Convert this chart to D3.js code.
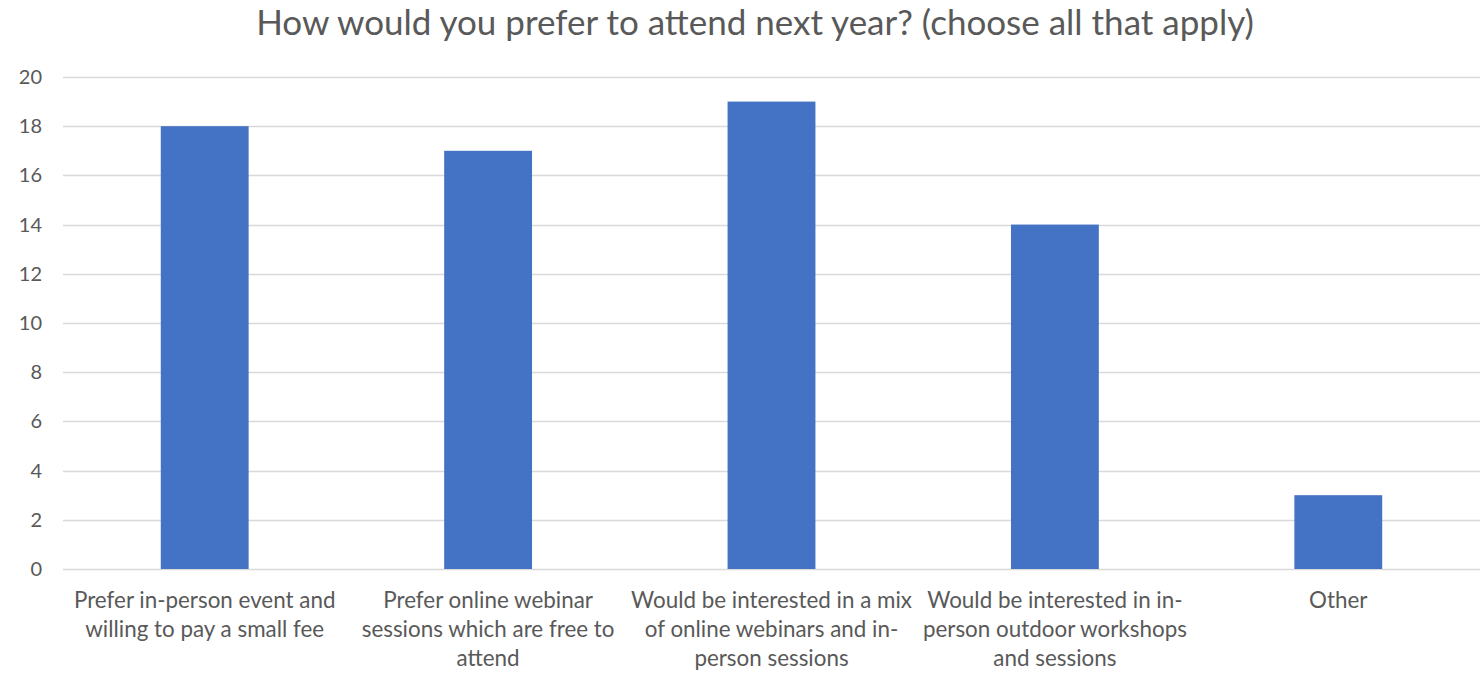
<!DOCTYPE html>
<html>
<head>
<meta charset="utf-8">
<script src="https://cdn.jsdelivr.net/npm/d3@7"></script>
<style>
  html, body { margin: 0; padding: 0; background: #fff; }
  svg { display: block; }
  text { font-family: Lato, "Open Sans", sans-serif; fill: #595959; }
</style>
</head>
<body>
<svg id="chart" width="1481" height="673"></svg>
<script>
const title = "How would you prefer to attend next year? (choose all that apply)";
const categories = [
  "Prefer in-person event and willing to pay a small fee",
  "Prefer online webinar sessions which are free to attend",
  "Would be interested in a mix of online webinars and in-person sessions",
  "Would be interested in in-person outdoor workshops and sessions",
  "Other"
];
const categoryLines = [
  ["Prefer in-person event and", "willing to pay a small fee"],
  ["Prefer online webinar", "sessions which are free to", "attend"],
  ["Would be interested in a mix", "of online webinars and in-", "person sessions"],
  ["Would be interested in in-", "person outdoor workshops", "and sessions"],
  ["Other"]
];
const values = [18, 17, 19, 14, 3];
const yTicks = [0, 2, 4, 6, 8, 10, 12, 14, 16, 18, 20];

const svg = d3.select("#chart");
const margin = { left: 63, right: 1, top: 77, bottom: 104 };
const W = 1481, H = 673;

const x = d3.scaleBand()
  .domain(categories)
  .range([margin.left, W - margin.right])
  .paddingInner(0.69)
  .paddingOuter(0.345);

const y = d3.scaleLinear()
  .domain([0, 20])
  .range([H - margin.bottom, margin.top]);

// horizontal gridlines
svg.append("g")
  .selectAll("line")
  .data(yTicks)
  .join("line")
  .attr("x1", margin.left)
  .attr("x2", W - margin.right)
  .attr("y1", d => Math.round(y(d)) + 0.5)
  .attr("y2", d => Math.round(y(d)) + 0.5)
  .attr("stroke", "#d9d9d9")
  .attr("stroke-width", 1.5);

// y tick labels
svg.append("g")
  .selectAll("text")
  .data(yTicks)
  .join("text")
  .attr("x", 42)
  .attr("y", d => y(d))
  .attr("dy", "0.35em")
  .attr("text-anchor", "end")
  .style("font-size", "20px")
  .text(d => d);

// bars
svg.append("g")
  .selectAll("rect")
  .data(values)
  .join("rect")
  .attr("x", (d, i) => x(categories[i]))
  .attr("width", x.bandwidth())
  .attr("y", d => y(d))
  .attr("height", d => y(0) - y(d))
  .attr("fill", "#4472c4");

// category labels
const lab = svg.append("g")
  .selectAll("text")
  .data(categories)
  .join("text")
  .attr("text-anchor", "middle")
  .style("font-size", "22.4px")
  .attr("transform", d => `translate(${x(d) + x.bandwidth() / 2},${y(0) + 39})`);
lab.selectAll("tspan")
  .data((d, i) => categoryLines[i])
  .join("tspan")
  .attr("x", 0)
  .attr("y", (d, j) => j * 29)
  .text(d => d);

// title
svg.append("text")
  .attr("x", 755)
  .attr("y", 35)
  .attr("text-anchor", "middle")
  .style("font-size", "35px")
  .text(title);
</script>
</body>
</html>
